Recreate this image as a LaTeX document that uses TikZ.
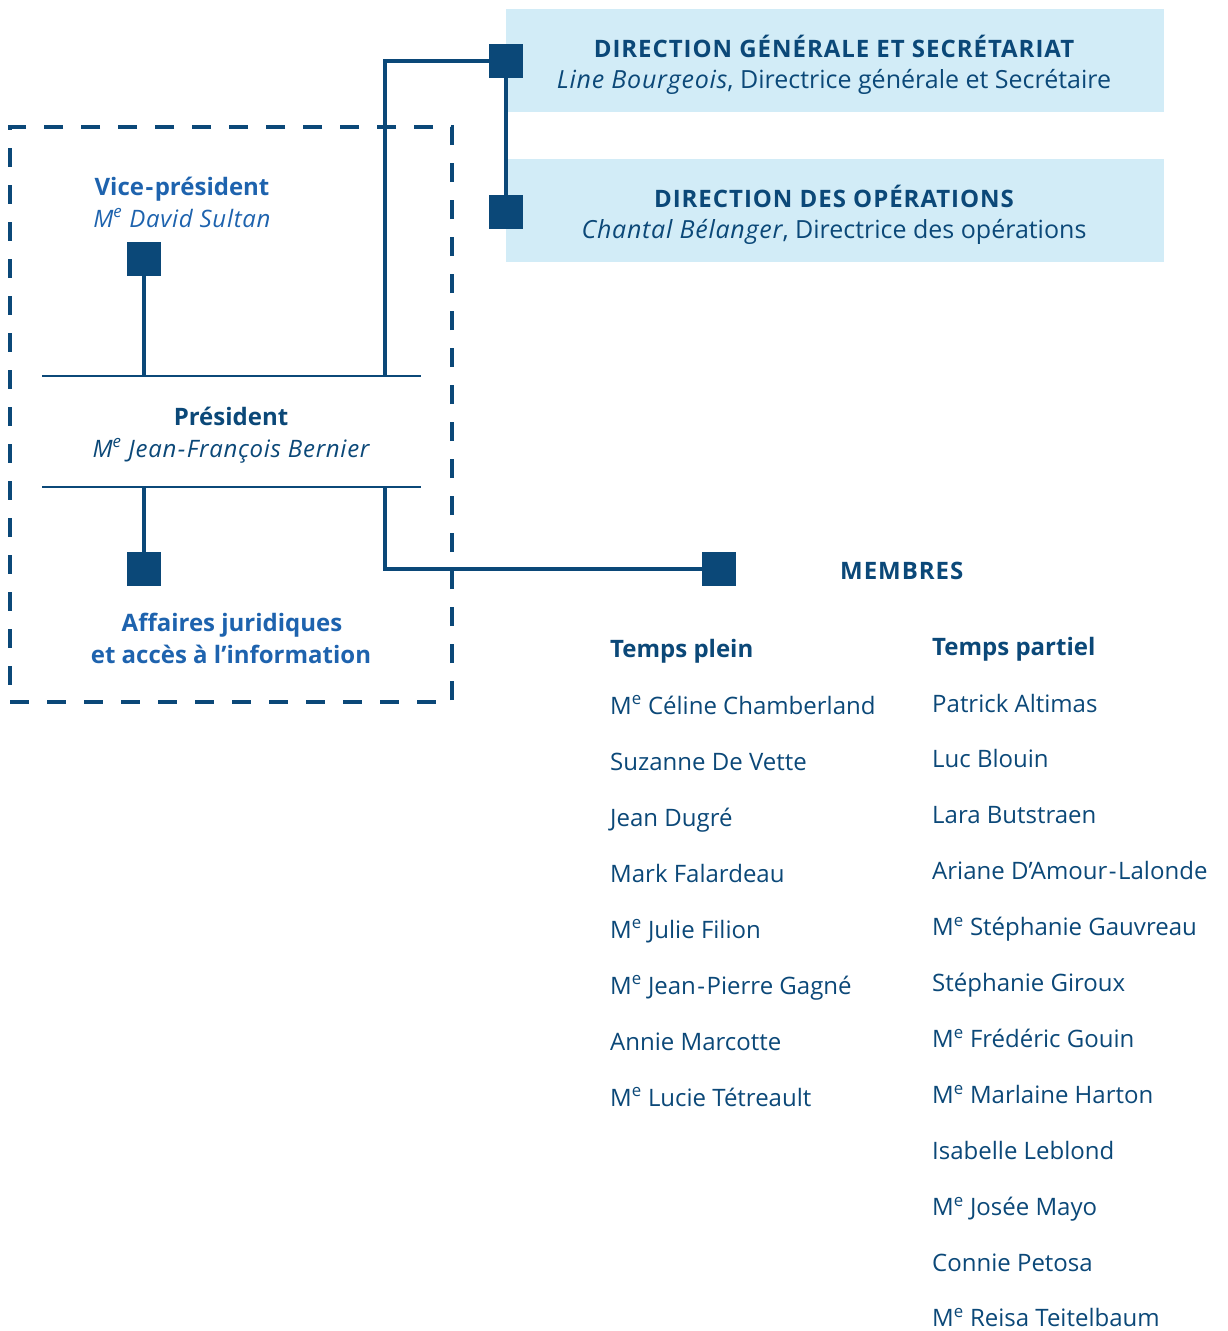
\documentclass[tikz,border=0pt]{standalone}
\usepackage{fontspec}
\setmainfont{Open Sans}[ItalicFeatures={LetterSpace=3}]
\definecolor{navy}{HTML}{0B4878}
\definecolor{lblue}{HTML}{1E63AE}
\definecolor{boxfill}{HTML}{D2ECF7}
\newcommand{\hy}{\kern1.5pt-\kern1.5pt}
\begin{document}
\begin{tikzpicture}[x=1pt,y=-1pt,
  txt/.style={inner sep=0pt,text=navy,font=\fontsize{24}{28}\selectfont},
  btxt/.style={txt,font=\fontsize{24}{28}\selectfont\bfseries},
  captxt/.style={txt,font=\fontsize{24}{28}\selectfont\bfseries\addfontfeature{LetterSpace=4}},
  subtxt/.style={txt,font=\fontsize{25}{28}\selectfont},
  itxt/.style={txt,font=\fontsize{24}{28}\selectfont\itshape},
  ltxt/.style={btxt,text=lblue},
  litxt/.style={itxt,text=lblue},
  dirbox/.style={fill=boxfill,draw=none,minimum width=658pt,minimum height=103pt,inner sep=0pt},
  sq/.style={fill=navy,draw=none,minimum size=34pt,inner sep=0pt},
  conn/.style={draw=navy,line width=4pt},
  thin/.style={draw=navy,line width=2.5pt},
  frame/.style={draw=navy,line width=4pt,dash pattern=on 19pt off 18pt,minimum width=442pt,minimum height=575pt,inner sep=0pt}
]
\useasboundingbox (0,0) rectangle (1227,1331);

% boxes
\node[dirbox] (dg) at (835,60.5) {};
\node[dirbox] (dop) at (835,210.5) {};
\node[frame] (grp) at (231,414.5) {};

% squares
\node[sq] (sqdg) at (506,61) {};
\node[sq] (sqdo) at (506,212) {};
\node[sq] (sqvp) at (144,259) {};
\node[sq] (sqaj) at (144,569) {};
\node[sq] (sqm) at (719,569) {};

% junction coordinates
\coordinate (ptl) at (42,376);
\coordinate (ptr) at (421,376);
\coordinate (pbl) at (42,487);
\coordinate (pbr) at (421,487);
\coordinate (vpj) at (144,376);
\coordinate (dgj) at (385,376);
\coordinate (ajj) at (144,487);
\coordinate (mj) at (385,487);

% connectors
\draw[thin] (ptl) -- (ptr);
\draw[thin] (pbl) -- (pbr);
\draw[conn] (sqvp.south) -- (vpj);
\draw[conn] (sqdg.west) -| (dgj);
\draw[conn] (sqdg.south) -- (sqdo.north);
\draw[conn] (ajj) -- (sqaj.north);
\draw[conn] (mj) |- (sqm.west);

% box texts
\node[captxt,anchor=base] (dgt) at (834,57) {DIRECTION GÉNÉRALE ET SECRÉTARIAT};
\node[subtxt,anchor=base] (dgn) at (834,88) {\textit{Line Bourgeois}, Directrice générale et Secrétaire};
\node[captxt,anchor=base] (dot) at (834,207) {DIRECTION DES OPÉRATIONS};
\node[subtxt,anchor=base] (don) at (834,238) {\textit{Chantal Bélanger}, Directrice des opérations};

% left group texts
\node[ltxt,anchor=base] (vpt) at (182,195) {Vice\hy président};
\node[litxt,anchor=base] (vpn) at (182,227) {M\textsuperscript{e} David Sultan};
\node[btxt,anchor=base] (prt) at (231,425) {Président};
\node[itxt,anchor=base] (prn) at (231,457) {M\textsuperscript{e} Jean\hy François Bernier};
\node[ltxt,anchor=base] (aj1) at (232,631) {Affaires juridiques};
\node[ltxt,anchor=base] (aj2) at (231,663) {et accès à l’information};

% members
\node[captxt,anchor=base west] (mem) at (840,579) {MEMBRES};
\node[btxt,anchor=base west] (tp) at (610,657) {Temps plein};
\node[btxt,anchor=base west] (tpa) at (932,655) {Temps partiel};

\foreach \n [count=\i] in {M\textsuperscript{e} Céline Chamberland,Suzanne De Vette,Jean Dugré,Mark Falardeau,M\textsuperscript{e} Julie Filion,M\textsuperscript{e} Jean\hy Pierre Gagné,Annie Marcotte,M\textsuperscript{e} Lucie Tétreault}
  \node[txt,anchor=base west] (fp\i) at (610,{714+56*(\i-1)}) {\n};

\foreach \n [count=\i] in {Patrick Altimas,Luc Blouin,Lara Butstraen,Ariane D’Amour\hy Lalonde,M\textsuperscript{e} Stéphanie Gauvreau,Stéphanie Giroux,M\textsuperscript{e} Frédéric Gouin,M\textsuperscript{e} Marlaine Harton,Isabelle Leblond,M\textsuperscript{e} Josée Mayo,Connie Petosa,M\textsuperscript{e} Reisa Teitelbaum}
  \node[txt,anchor=base west] (pp\i) at (932,{712+55.9*(\i-1)}) {\n};
\end{tikzpicture}
\end{document}
